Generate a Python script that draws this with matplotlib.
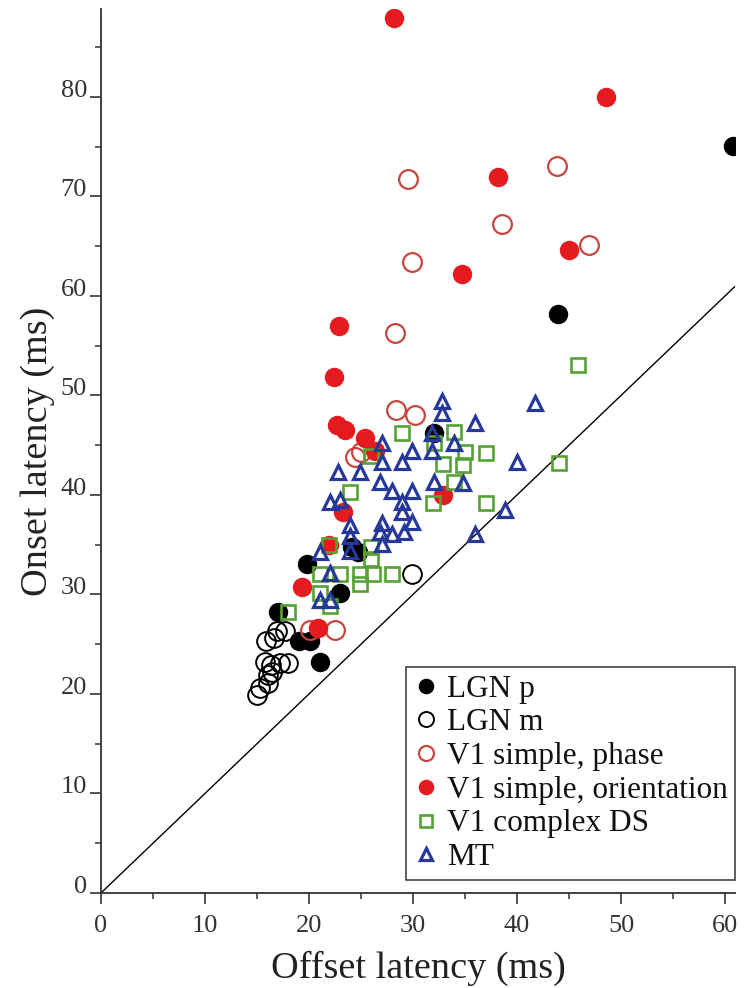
import matplotlib
matplotlib.use('Agg')
import matplotlib.pyplot as plt
from matplotlib.ticker import MultipleLocator

plt.rcParams['font.family'] = ['Liberation Serif', 'DejaVu Serif']

# Offset / onset latencies (ms) per cell class
lgn_p_x = [60.8, 43.9, 32.0, 24.1, 24.7, 19.8, 23.0, 17.0, 19.0, 20.1, 21.1]
lgn_p_y = [75.1, 58.2, 46.2, 34.8, 34.3, 33.1, 30.1, 28.2, 25.3, 25.3, 23.2]

lgn_m_x = [16.9, 17.7, 15.9, 16.6, 18.0, 17.2, 16.3, 15.8, 16.1, 16.4, 16.1, 15.0, 15.3, 29.9]
lgn_m_y = [26.3, 26.3, 25.3, 25.6, 23.1, 23.1, 22.9, 23.2, 21.9, 22.2, 21.1, 19.9, 20.6, 32.1]

v1_phase_x = [29.5, 43.8, 38.6, 29.9, 46.9, 28.3, 28.4, 30.2, 24.4, 25.0, 22.5, 20.1]
v1_phase_y = [71.8, 73.1, 67.2, 63.4, 65.1, 56.3, 48.5, 48.0, 43.8, 44.3, 26.4, 26.4]

v1_orient_x = [28.2, 48.6, 38.2, 34.7, 45.0, 22.9, 22.4, 22.7, 23.5, 25.4, 26.3,
               23.3, 32.9, 19.3, 20.9, 21.9]
v1_orient_y = [87.9, 80.0, 72.0, 62.2, 64.6, 57.0, 51.9, 47.0, 46.5, 45.7, 44.4,
               38.3, 40.0, 30.7, 26.6, 35.0]

v1_complex_x = [45.9, 28.9, 33.9, 32.0, 35.0, 37.0, 32.9, 34.8, 33.9, 31.9, 37.0,
                44.0, 26.0, 23.9, 21.9, 26.0, 26.0, 21.1, 23.0, 24.9, 26.2, 28.0,
                24.9, 21.1, 22.0, 18.0]
v1_complex_y = [53.1, 46.2, 46.3, 45.2, 44.3, 44.2, 43.1, 43.0, 41.3, 39.2, 39.2,
                43.2, 43.9, 40.3, 35.0, 34.8, 33.6, 32.1, 32.1, 32.1, 32.1, 32.1,
                31.1, 30.1, 28.8, 28.2]

mt_x = [32.8, 32.8, 41.7, 36.0, 31.8, 33.9, 27.0, 29.9, 31.8, 27.0, 28.9, 40.0,
        22.8, 24.9, 26.8, 32.0, 34.8, 28.0, 29.9, 28.9, 22.0, 23.0, 28.9, 38.8,
        27.0, 29.9, 23.9, 26.8, 28.0, 29.1, 36.0, 23.9, 27.0, 23.9, 21.1, 22.0,
        21.1, 22.0]
mt_y = [49.4, 48.2, 49.2, 47.2, 46.2, 45.2, 45.2, 44.4, 44.4, 43.3, 43.3, 43.3,
        42.3, 42.3, 41.3, 41.3, 41.2, 40.4, 40.4, 39.3, 39.3, 39.5, 38.3, 38.5,
        37.2, 37.3, 37.0, 36.3, 36.1, 36.3, 36.1, 35.9, 35.1, 34.4, 34.3, 32.2,
        29.4, 29.4]

x_max, y_max = 61, 88.8
unity = [0, x_max]

red = '#e41b1f'
red_open = '#c8463f'
green = '#56a236'
blue = '#26399a'

fig = plt.figure(figsize=(7.47, 9.88), dpi=100)
ax = fig.add_axes([0.1352, 0.0962, 0.8493, 0.8943])

ax.plot(unity, unity, color='black', lw=1.0, zorder=1)

ax.plot(lgn_m_x, lgn_m_y, 'o', ms=13.5, mfc='none', mec='black', mew=1.4,
        label='LGN m', zorder=2)
ax.plot(lgn_p_x, lgn_p_y, 'o', ms=14, mfc='black', mec='black', mew=0,
        label='LGN p', zorder=3)
ax.plot(v1_phase_x, v1_phase_y, 'o', ms=13.5, mfc='none', mec=red_open, mew=1.6,
        label='V1 simple, phase', zorder=4)
ax.plot(v1_orient_x, v1_orient_y, 'o', ms=14, mfc=red, mec=red, mew=0,
        label='V1 simple, orientation', zorder=5)
ax.plot(v1_complex_x, v1_complex_y, 's', ms=10, mfc='none', mec=green, mew=1.9,
        label='V1 complex DS', zorder=6)
ax.plot(mt_x, mt_y, '^', ms=10, mfc='none', mec=blue, mew=2.3,
        label='MT', zorder=7)

ax.set_xlim(0, x_max)
ax.set_ylim(0, y_max)
for side in ('top', 'right'):
    ax.spines[side].set_visible(False)
for side in ('left', 'bottom'):
    ax.spines[side].set_linewidth(1.3)
    ax.spines[side].set_color('#333333')

ax.xaxis.set_major_locator(MultipleLocator(10))
ax.xaxis.set_minor_locator(MultipleLocator(5))
ax.yaxis.set_major_locator(MultipleLocator(10))
ax.yaxis.set_minor_locator(MultipleLocator(5))
ax.tick_params(which='major', direction='out', length=8, width=1.2,
               colors='#333333', labelsize=19, labelcolor='#333333')
ax.tick_params(which='minor', direction='out', length=4, width=1.1, colors='#333333')
ax.tick_params(axis='y', which='major', pad=2)
ax.tick_params(axis='x', which='major', pad=8)
for lab in ax.get_yticklabels():
    lab.set_verticalalignment('baseline')

ax.set_xlabel('Offset latency (ms)', fontsize=27.5, color='#222222', labelpad=10)
ax.set_ylabel('Onset latency (ms)', fontsize=27.5, color='#222222', labelpad=4)

handles, labels = ax.get_legend_handles_labels()
order = ['LGN p', 'LGN m', 'V1 simple, phase', 'V1 simple, orientation',
         'V1 complex DS', 'MT']
hmap = dict(zip(labels, handles))
leg = ax.legend([hmap[k] for k in order], order, loc='lower right',
                bbox_to_anchor=(1.0, 0.0147), borderaxespad=0, fontsize=22.5,
                frameon=True, fancybox=False, framealpha=1, edgecolor='#444444',
                markerscale=0.8, handlelength=0.75, handletextpad=0.3,
                labelspacing=0.15, borderpad=0.25)
leg.get_frame().set_linewidth(1.2)
for t in leg.get_texts():
    t.set_color('#111111')

fig.savefig('out.png', dpi=100)
